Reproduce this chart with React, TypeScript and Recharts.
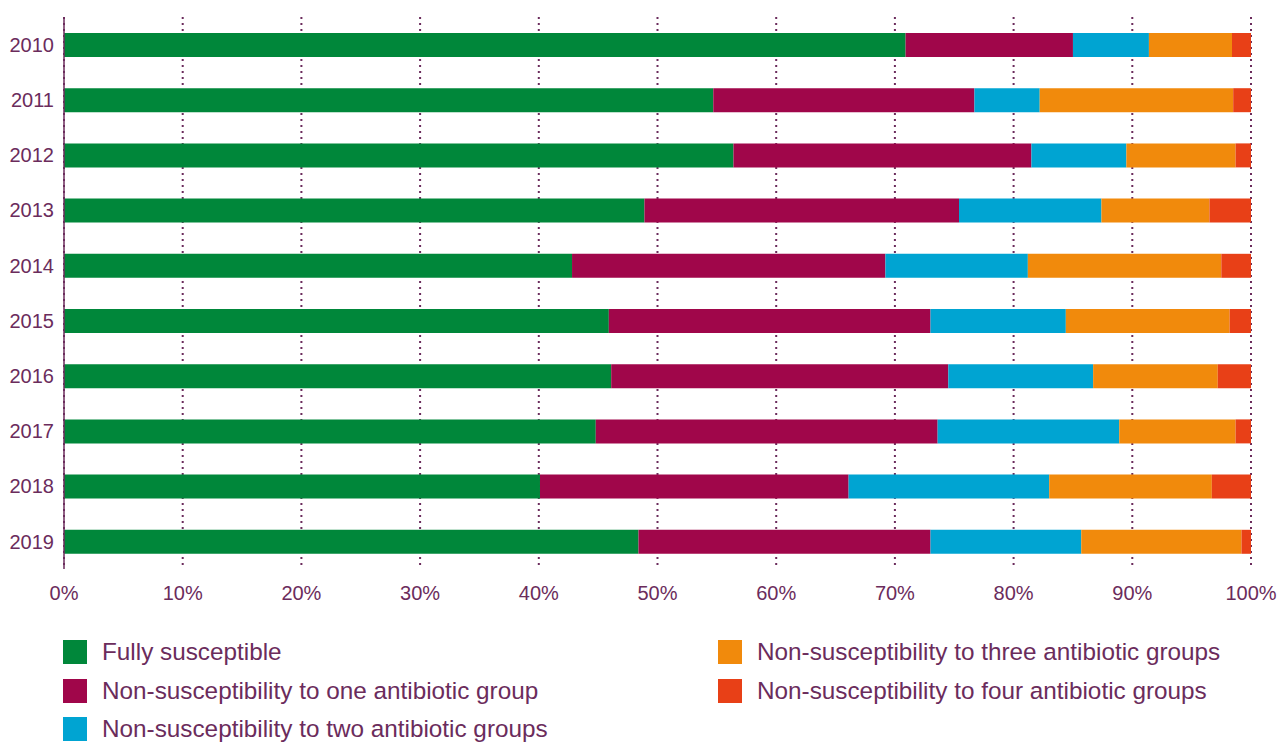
import { BarChart, Bar, XAxis, YAxis, CartesianGrid } from "recharts"

const years = ["2010", "2011", "2012", "2013", "2014", "2015", "2016", "2017", "2018", "2019"]
const fully = [70.9, 54.7, 56.4, 48.9, 42.8, 45.9, 46.1, 44.8, 40.1, 48.4]
const one = [14.1, 22.0, 25.1, 26.5, 26.4, 27.1, 28.4, 28.8, 26.0, 24.6]
const two = [6.4, 5.5, 8.0, 12.0, 12.0, 11.4, 12.2, 15.3, 16.9, 12.7]
const three = [7.0, 16.3, 9.2, 9.1, 16.3, 13.8, 10.5, 9.8, 13.7, 13.5]
const four = [1.6, 1.5, 1.3, 3.5, 2.5, 1.8, 2.8, 1.3, 3.3, 0.8]
const xTicks = [0, 10, 20, 30, 40, 50, 60, 70, 80, 90, 100]
const boundaryTicks = [0, 1, 2, 3, 4, 5, 6, 7, 8, 9, 10]

const series = [
  { key: "fully", name: "Fully susceptible", color: "#00873a" },
  { key: "one", name: "Non-susceptibility to one antibiotic group", color: "#a0064a" },
  { key: "two", name: "Non-susceptibility to two antibiotic groups", color: "#00a4d2" },
  { key: "three", name: "Non-susceptibility to three antibiotic groups", color: "#f18a0c" },
  { key: "four", name: "Non-susceptibility to four antibiotic groups", color: "#e84017" },
]

const data = years.map((year, i) => ({
  year,
  fully: fully[i],
  one: one[i],
  two: two[i],
  three: three[i],
  four: four[i],
}))

const ink = "#6b2c5c"
const font = "'Liberation Sans', Arial, sans-serif"

export default function App() {
  return (
    <div style={{ position: "relative", width: 1282, height: 743, fontFamily: font }}>
      <style>{`body { margin: 0; }`}</style>
      <BarChart
        width={1282}
        height={743}
        data={data}
        layout="vertical"
        margin={{ top: 17, right: 31, left: 0, bottom: 144 }}
      >
        <CartesianGrid
          horizontal={false}
          stroke={ink}
          strokeWidth={2}
          strokeDasharray="2 4"
        />
        <XAxis
          type="number"
          domain={[0, 100]}
          ticks={xTicks}
          tickFormatter={(v) => `${v}%`}
          axisLine={false}
          tickLine={false}
          tickSize={0}
          tickMargin={17}
          height={30}
          tick={{ fill: ink, fontSize: 20, fontFamily: font }}
        />
        <YAxis
          type="category"
          dataKey="year"
          width={64}
          axisLine={{ stroke: ink, strokeWidth: 1.5 }}
          tickLine={false}
          tickSize={0}
          tickMargin={10}
          tick={{ fill: ink, fontSize: 20, fontFamily: font }}
        />
        {/* short ticks between the years, pointing into the plot */}
        <YAxis
          yAxisId="bounds"
          type="number"
          domain={[0, 10]}
          ticks={boundaryTicks}
          mirror
          axisLine={false}
          tickLine={{ stroke: ink, strokeWidth: 1.5 }}
          tickSize={8}
          tick={false}
          width={10}
        />
        {series.map((s) => (
          <Bar
            key={s.key}
            dataKey={s.key}
            name={s.name}
            stackId="a"
            fill={s.color}
            barSize={24}
            isAnimationActive={false}
          />
        ))}
      </BarChart>

      <div
        style={{
          position: "absolute",
          left: 63,
          top: 633,
          display: "grid",
          gridTemplateColumns: "655px auto",
          gridTemplateRows: "repeat(3, 38.5px)",
          gridAutoFlow: "column",
        }}
      >
        {series.map((s) => (
          <div key={s.key} style={{ display: "flex", alignItems: "center" }}>
            <span style={{ width: 24, height: 24, background: s.color, marginRight: 15, flexShrink: 0 }} />
            <span style={{ color: ink, fontSize: 24.3, whiteSpace: "nowrap" }}>{s.name}</span>
          </div>
        ))}
      </div>
    </div>
  )
}
